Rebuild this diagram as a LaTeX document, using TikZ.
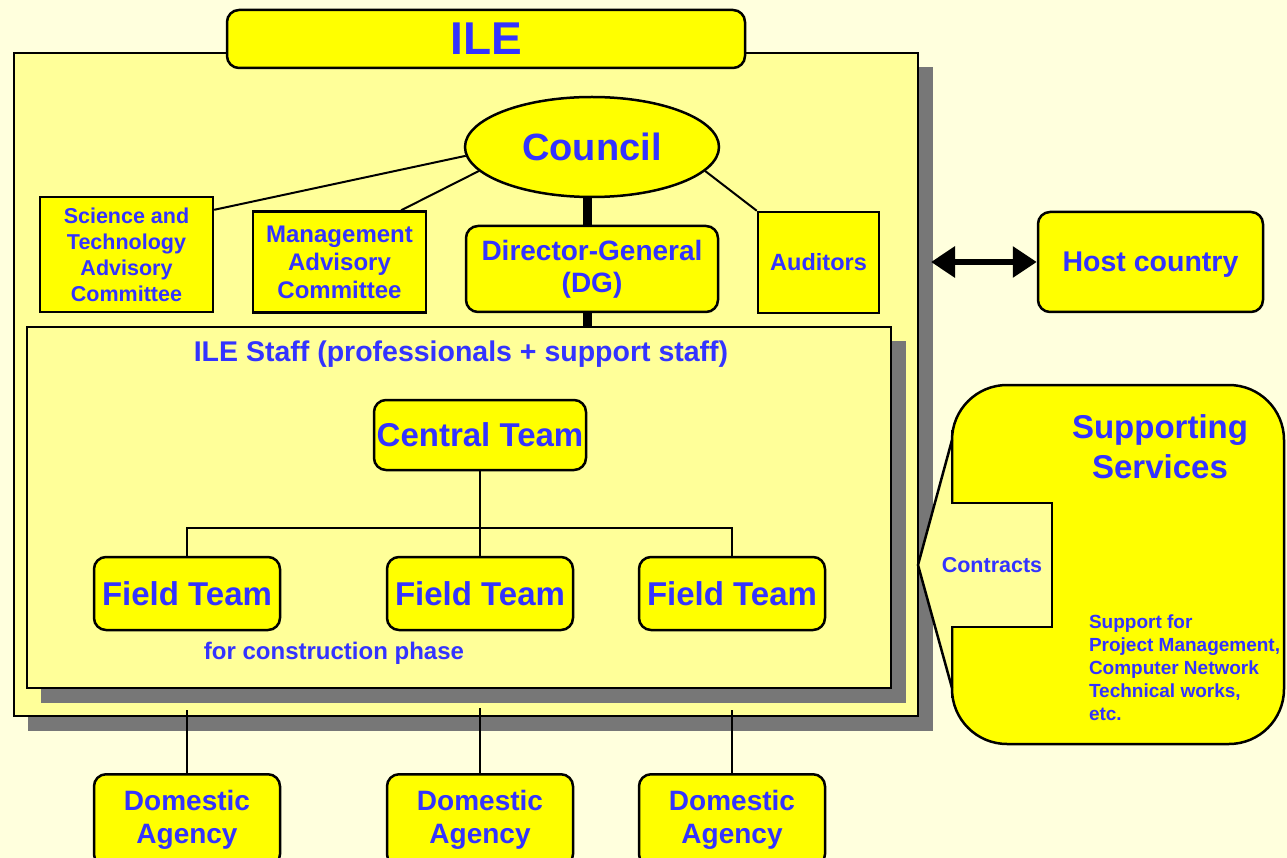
\documentclass[tikz,border=0pt]{standalone}
\usepackage{fontspec}
\setmainfont{Liberation Sans}
\usetikzlibrary{shapes.geometric,arrows.meta}
\definecolor{paper}{HTML}{FFFFDD}
\definecolor{pale}{HTML}{FFFF99}
\definecolor{yel}{HTML}{FFFF00}
\definecolor{ink}{HTML}{3333FF}
\definecolor{shadowgrey}{HTML}{777777}
\newcommand\fsz[2]{\fontsize{#1}{#2}\selectfont\bfseries}

\begin{document}
\begin{tikzpicture}[x=1pt,y=-1pt,line width=2pt,
  box/.style={draw,line width=2.5pt,fill=yel,text=ink,align=center,inner sep=0pt},
  rbox/.style={box,rounded corners=12pt},
  txt/.style={text=ink,inner sep=0pt},
  team/.style={rbox,minimum width=186pt,minimum height=73pt,font=\fsz{33}{38}},
  agency/.style={rbox,anchor=north,minimum width=186pt,minimum height=92pt,font=\fsz{28}{33}}]
  \useasboundingbox (0,0) rectangle (1287,858);
  \fill[paper] (0,0) rectangle (1287,858);
  % ILE frame
  \fill[shadowgrey] (28,67) rectangle (933,731);
  \draw[line width=2.5pt,fill=pale] (14,53) rectangle (918,716);
  \node[rbox,minimum width=518pt,minimum height=58pt,font=\fsz{46}{50}] (ile) at (486,39) {ILE};
  % governing bodies
  \node[box,ellipse,minimum width=254pt,minimum height=100pt,font=\fsz{38}{42}] (council) at (592,147) {Council};
  \node[box,minimum width=173pt,minimum height=115pt,font=\fsz{21.5}{26}] (sci) at (126.5,254.5)
    {Science and\\Technology\\Advisory\\Committee};
  \node[box,minimum width=173pt,minimum height=101pt,font=\fsz{24}{28}] (mgmt) at (339.5,262)
    {Management\\Advisory\\Committee};
  \node[rbox,minimum width=252pt,minimum height=86pt,font=\fsz{28}{32}] (dg) at (592,269)
    {Director-General\\(DG)};
  \node[box,minimum width=121pt,minimum height=101pt,font=\fsz{23.5}{28}] (aud) at (818.5,262.5) {Auditors};
  \draw (council.184) -- (sci.27);
  \draw (council.192) -- (mgmt.40);
  \draw (council.-12) -- (aud.north west);
  \draw[line width=9pt] ([xshift=-5pt]council.south) -- ([xshift=-5pt]dg.north);
  % staff
  \fill[shadowgrey] (41,341) rectangle (906,703);
  \draw[line width=2.5pt,fill=pale] (27,327) rectangle (891,688);
  \coordinate (stafftop) at (587,327);
  \draw[line width=9pt] ([xshift=-5pt]dg.south) -- (stafftop);
  \node[txt,font=\fsz{28.5}{32}] (staff) at (461,354) {ILE Staff (professionals + support staff)};
  \node[rbox,minimum width=212pt,minimum height=70pt,font=\fsz{33}{38}] (central) at (480,435) {Central Team};
  \node[team] (f1) at (187,593.5) {Field Team};
  \node[team] (f2) at (480,593.5) {Field Team};
  \node[team] (f3) at (732,593.5) {Field Team};
  \node[txt,font=\fsz{24}{28}] (phase) at (334,653) {for construction phase};
  \coordinate (bar) at (480,528);
  \draw (central.south) -- (bar);
  \draw (f1.north) |- (bar) -| (f3.north);
  \draw (bar) -- (f2.north);
  % domestic agencies
  \node[agency] (d1) at (187,773) {Domestic\\Agency};
  \node[agency] (d2) at (480,773) {Domestic\\Agency};
  \node[agency] (d3) at (732,773) {Domestic\\Agency};
  \coordinate (t1) at (187,710);
  \coordinate (t2) at (480,708);
  \coordinate (t3) at (732,710);
  \draw (t1) -- (d1.north);
  \draw (t2) -- (d2.north);
  \draw (t3) -- (d3.north);
  % host country
  \node[rbox,minimum width=225pt,minimum height=100pt,text depth=0pt,font=\fsz{28.5}{33}] (host) at (1150.5,262) {Host country};
  \coordinate (arrl) at (931,262);
  \draw[line width=6pt,{Triangle[length=24pt,width=30pt]}-{Triangle[length=24pt,width=30pt]}] (arrl) -- (host.west);
  % supporting services
  \draw[line width=2.5pt,fill=yel,rounded corners=55pt] (952,385) rectangle (1284,744);
  \fill[pale] (952,440) -- (918,565) -- (952,688) -- (952,627) -- (1052,627) -- (1052,503) -- (952,503) -- cycle;
  \draw[line width=2.5pt] (952,440) -- (918,565) -- (952,688);
  \draw[line width=2.5pt] (952,430) -- (952,503) -- (1052,503) -- (1052,627) -- (952,627) -- (952,698);
  \node[txt,align=center,font=\fsz{33}{40}] (supp) at (1160,447) {Supporting\\Services};
  \node[txt,font=\fsz{21.5}{26}] (contracts) at (992,565) {Contracts};
  \node[txt,align=left,anchor=west,font=\fsz{19}{23}] (tasks) at (1088,668)
    {Support for\\Project Management,\\Computer Network\\Technical works,\\etc.};
\end{tikzpicture}
\end{document}
